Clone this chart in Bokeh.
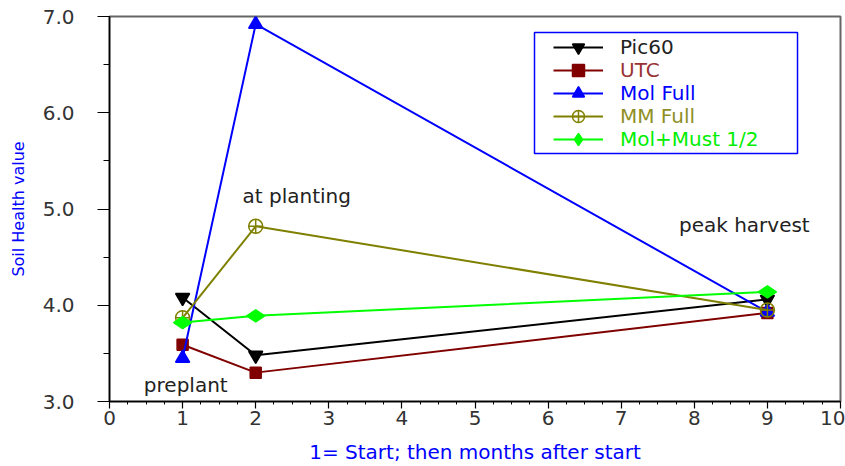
import math

from bokeh.embed import file_html
from bokeh.models import (BoxAnnotation, FixedTicker, Label, Legend,
                          LegendItem, PrintfTickFormatter, Range1d)
from bokeh.plotting import figure
from bokeh.resources import INLINE

# Sampling times: 1 = start, then months after start
months = [1, 2, 9]

# Soil health value per treatment
pic60 = [4.08, 3.48, 4.06]
utc = [3.59, 3.30, 3.92]
mol_full = [3.45, 6.92, 3.93]
mm_full = [3.87, 4.82, 3.95]
mol_must = [3.82, 3.89, 4.14]

series_names = ["Pic60", "UTC", "Mol Full", "MM Full", "Mol+Must 1/2"]

x_ticks = [0, 1, 2, 3, 4, 5, 6, 7, 8, 9, 10]
y_ticks = [3.0, 4.0, 5.0, 6.0, 7.0]

FONT = "DejaVu Sans"

p = figure(width=845, height=466, output_backend="svg", toolbar_location=None,
           x_range=Range1d(0, 10), y_range=Range1d(3, 7),
           min_border_left=109, min_border_right=5,
           min_border_top=16, min_border_bottom=65)
p.background_fill_color = "white"
p.border_fill_color = "white"
p.outline_line_color = "#666666"
p.outline_line_width = 2
p.xgrid.visible = False
p.ygrid.visible = False

# Axes
p.xaxis.ticker = FixedTicker(ticks=x_ticks,
                             minor_ticks=[i * 0.25 for i in range(41)])
p.yaxis.ticker = FixedTicker(ticks=y_ticks,
                             minor_ticks=[3 + i * 0.5 for i in range(9)])
p.yaxis.formatter = PrintfTickFormatter(format="%.1f")
for ax in (p.xaxis, p.yaxis):
    ax.axis_line_color = "black"
    ax.axis_line_width = 1.5
    ax.major_tick_line_color = "black"
    ax.minor_tick_line_color = "black"
    ax.major_tick_line_width = 1.2
    ax.minor_tick_line_width = 1.0
    ax.major_tick_in = 0
    ax.minor_tick_in = 0
    ax.major_label_text_font = FONT
    ax.major_label_text_font_size = "20px"
    ax.major_label_text_color = "#333333"
    ax.axis_label_text_font = FONT
    ax.axis_label_text_font_style = "normal"
    ax.axis_label_text_color = "#0000ff"
p.xaxis.major_tick_out = 7
p.xaxis.minor_tick_out = 3
p.xaxis.major_label_standoff = 2
p.yaxis.major_tick_out = 12
p.yaxis.minor_tick_out = 6
p.yaxis.major_label_standoff = 23

# Axis titles
p.xaxis.axis_label = "1= Start; then months after start"
p.xaxis.axis_label_text_font_size = "20px"
p.xaxis.axis_label_standoff = 12
p.yaxis.axis_label = "Soil Health value"
p.yaxis.axis_label_text_font_size = "16px"
p.yaxis.axis_label_standoff = 12

# Series
styles = [
    (pic60, "black", "inverted_triangle", "black", 14),
    (utc, "#800000", "square", "#800000", 11),
    (mol_full, "#0000ff", "triangle", "#0000ff", 14),
    (mm_full, "#808000", "circle_cross", None, 14),
    (mol_must, "#00ff00", "diamond", "#00ff00", 18),
]
text_colors = ["#222222", "#993333", "#0000ff", "#8f8f26", "#00ee00"]

items = []
for (vals, color, marker, fill, size), name in zip(styles, series_names):
    ln = p.line(months, vals, line_color=color, line_width=2)
    angle = math.pi / 2 if marker == "diamond" else 0
    sc = p.scatter(months, vals, marker=marker, size=size, line_color=color,
                   fill_color=fill, line_width=1.5, angle=angle)
    items.append(LegendItem(label=name, renderers=[ln, sc]))

# Legend frame
p.add_layout(BoxAnnotation(left=5.814, right=9.412, bottom=5.577, top=6.834,
                           fill_color="white", fill_alpha=1.0,
                           line_color="#0000ff", line_alpha=1.0,
                           line_width=1.5))

# One legend per entry so each label keeps its series colour
row_centers = [47, 70, 93, 116, 139]
for item, tc, cy in zip(items, text_colors, row_centers):
    lg = Legend(items=[item], location=(444, 386 - cy), margin=0, padding=0,
                glyph_width=50, glyph_height=30, label_height=30,
                label_standoff=17, spacing=0,
                border_line_color=None, background_fill_alpha=0,
                label_text_font=FONT, label_text_font_size="20px",
                label_text_color=tc)
    p.add_layout(lg)

# Stage annotations
for txt, x, y in [("at planting", 1.82, 5.13),
                  ("peak harvest", 7.79, 4.83),
                  ("preplant", 0.47, 3.17)]:
    p.add_layout(Label(x=x, y=y, text=txt, text_font=FONT,
                       text_font_size="20px", text_color="#222222",
                       text_align="left", text_baseline="middle"))

open("out.html", "w").write(file_html(p, INLINE))
